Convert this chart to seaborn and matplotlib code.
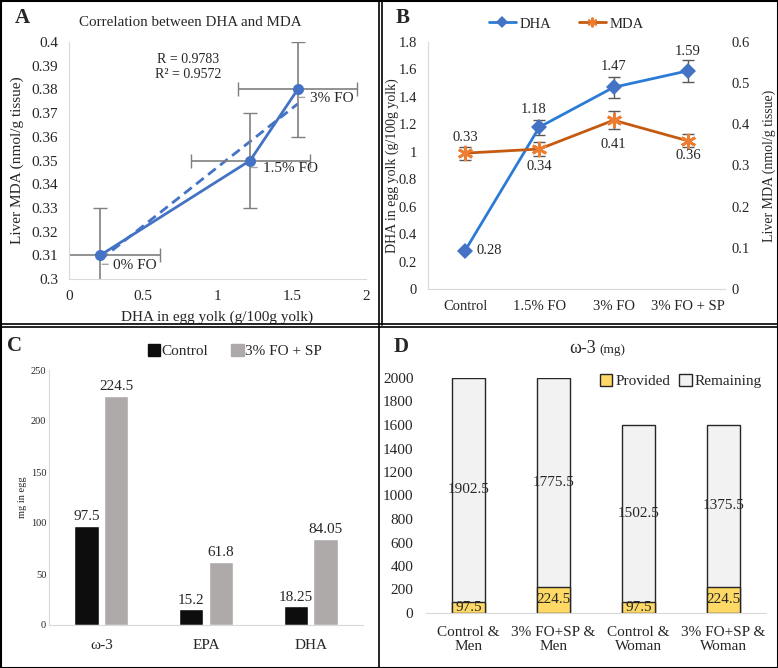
import matplotlib
matplotlib.use("Agg")
import matplotlib.pyplot as plt
import numpy as np
import pandas as pd
import seaborn as sns
from matplotlib.lines import Line2D
from matplotlib.patches import Patch
from matplotlib.transforms import offset_copy

# panel A: DHA in yolk vs liver MDA
a_labels = ["0% FO", "1.5% FO", "3% FO"]
a_dha = [0.21, 1.22, 1.54]
a_mda = [0.31, 0.35, 0.38]
a_xerr = [0.4, 0.4, 0.4]
a_yerr = [0.02, 0.02, 0.02]

# panel B: treatments
b_groups = ["Control", "1.5% FO", "3% FO", "3% FO + SP"]
b_dha = [0.28, 1.18, 1.47, 1.59]
b_dha_err = [0.0, 0.055, 0.075, 0.08]
b_mda = [0.33, 0.34, 0.41, 0.36]
b_mda_err = [0.016, 0.016, 0.022, 0.016]

# panel C: mg in egg
c_nutrients = ["ω-3", "EPA", "DHA"]
c_control = [97.5, 15.2, 18.25]
c_fosp = [224.5, 61.8, 84.05]

# panel D: omega-3 provided vs remaining
d_groups = ["Control &\nMen", "3% FO+SP &\nMen", "Control &\nWoman", "3% FO+SP &\nWoman"]
d_provided = [97.5, 224.5, 97.5, 224.5]
d_remaining = [1902.5, 1775.5, 1502.5, 1375.5]

sns.set_style("white")
plt.rcParams["font.family"] = ["Liberation Serif", "DejaVu Serif"]

W, H = 778, 668
fig = plt.figure(figsize=(W / 100, H / 100), dpi=100)


def box(l, t, r, b):
    return fig.add_axes([l / W, 1 - b / H, (r - l) / W, (b - t) / H])


def px(x, y):
    return x / W, 1 - y / H


def clean(ax, keep=("left", "bottom")):
    for s in ["left", "right", "top", "bottom"]:
        ax.spines[s].set_visible(s in keep)
        ax.spines[s].set_color("#d9d9d9")
    ax.tick_params(length=0)


grey_bar = "#7f7f7f"
blue = "#4472c4"

# ---------- A ----------
axA = box(69, 42, 366, 279)
dfA = pd.DataFrame({"dha": a_dha, "mda": a_mda})
sns.regplot(data=dfA, x="dha", y="mda", ci=None, scatter=False, ax=axA,
            line_kws=dict(color=blue, ls=(0, (3.5, 2)), lw=2))
axA.errorbar(a_dha, a_mda, xerr=a_xerr, yerr=a_yerr, fmt="none",
             ecolor=grey_bar, elinewidth=1.2, capsize=5)
sns.lineplot(data=dfA, x="dha", y="mda", ax=axA, color=blue, lw=2,
             marker="o", markersize=8, markeredgewidth=0, sort=False)
# label offsets in pixels: text start, vertical shift, leader start/end
a_lab_pos = [(13, -10, 2, 8), (13, -8, 1, 7), (12, -9, 1, 7)]
for x, y, lab, (tx, ty, l0, l1) in zip(a_dha, a_mda, a_labels, a_lab_pos):
    axA.annotate(lab, (x, y), xytext=(tx, ty), textcoords="offset pixels",
                 ha="left", va="center", fontsize=11)
    tr = offset_copy(axA.transData, fig=fig, x=l0, y=ty + 1, units="dots")
    axA.annotate("", (x, y), xycoords=tr, xytext=(l1 - l0, 0), textcoords="offset pixels",
                 arrowprops=dict(arrowstyle="-", color="#a6a6a6", lw=1,
                                 shrinkA=0, shrinkB=0))
axA.set_xlim(0, 2)
axA.set_ylim(0.3, 0.4)
yt = np.round(np.arange(0.3, 0.4001, 0.01), 2)
axA.set_yticks(yt)
axA.set_yticklabels([f"{v:g}" for v in yt])
axA.set_xticks([0, 0.5, 1, 1.5, 2])
axA.set_xticklabels(["0", "0.5", "1", "1.5", "2"])
axA.tick_params(axis="y", labelsize=11, pad=8)
axA.tick_params(axis="x", labelsize=11, pad=8)
axA.set_xlabel("DHA in egg yolk (g/100g yolk)", fontsize=11, labelpad=5)
axA.set_ylabel("Liver MDA (nmol/g tissue)", fontsize=11, labelpad=5)
clean(axA)
axA.text(0.8, 0.3925, "R = 0.9783", ha="center", va="center", fontsize=10)
axA.text(0.8, 0.3862, "R² = 0.9572", ha="center", va="center", fontsize=10)
fig.text(*px(190, 22), "Correlation between DHA and MDA", ha="center", va="center", fontsize=10.8)

# ---------- B ----------
axB = box(428, 42, 725, 289)
pos = np.arange(len(b_groups))
dfB = pd.DataFrame({"pos": pos, "dha": b_dha, "mda": b_mda})
dha_line = "#2b7bd6"
mda_line = "#c55a11"
mda_mark = "#ed7d31"
axB.errorbar(pos, b_dha, yerr=b_dha_err, fmt="none", ecolor="#595959", elinewidth=1, capsize=4)
sns.lineplot(data=dfB, x="pos", y="dha", ax=axB, color=dha_line, lw=2,
             marker="D", markersize=8, markerfacecolor=blue, markeredgewidth=0)
bt = np.round(np.arange(0, 1.81, 0.2), 1)
axB.set_ylim(0, 1.8)
axB.set_yticks(bt)
axB.set_yticklabels([f"{v:g}" for v in bt])
axB.set_xlim(-0.5, 3.5)
axB.set_xticks(pos)
axB.set_xticklabels(b_groups)
axB.tick_params(axis="y", labelsize=10.5, pad=8)
axB.tick_params(axis="x", labelsize=10.5, pad=8)
axB.set_xlabel("")
axB.set_ylabel("DHA in egg yolk (g/100g yolk)", fontsize=10, labelpad=0)
clean(axB)
axB2 = axB.twinx()
axB2.errorbar(pos, b_mda, yerr=b_mda_err, fmt="none", ecolor="#595959", elinewidth=1, capsize=4)
sns.lineplot(data=dfB, x="pos", y="mda", ax=axB2, color=mda_line, lw=2,
             marker=(6, 2, 0), markersize=11, markeredgecolor=mda_mark, markeredgewidth=2)
rt = np.round(np.arange(0, 0.61, 0.1), 1)
axB2.set_ylim(0, 0.6)
axB2.set_yticks(rt)
axB2.set_yticklabels([f"{v:g}" for v in rt])
axB2.tick_params(labelsize=10.5, length=0, pad=5)
axB2.set_ylabel("Liver MDA (nmol/g tissue)", fontsize=10, labelpad=9)
for s in axB2.spines.values():
    s.set_visible(False)
# label offsets in pixels (centre of text relative to point)
dha_off = [(24, 0), (-6, 18), (0, 21), (0, 19)]
for i, (dx, dy) in enumerate(dha_off):
    axB.annotate(f"{b_dha[i]:g}", (pos[i], b_dha[i]), xytext=(dx, dy),
                 textcoords="offset pixels", ha="center", va="center", fontsize=10.5)
mda_off = [(0, 16), (0, -17), (0, -24), (0, -15)]
for i, (dx, dy) in enumerate(mda_off):
    axB2.annotate(f"{b_mda[i]:g}", (pos[i], b_mda[i]), xytext=(dx, dy),
                  textcoords="offset pixels", ha="center", va="center", fontsize=10.5)
handlesB = [Line2D([], [], color=dha_line, lw=2, marker="D", markersize=6,
                   markerfacecolor=blue, markeredgewidth=0),
            Line2D([], [], color=mda_line, lw=2, marker=(6, 2, 0), markersize=7,
                   markeredgecolor=mda_mark, markeredgewidth=1.5)]
fig.legend(handlesB, ["DHA", "MDA"], loc="center", bbox_to_anchor=px(566, 24),
           ncol=2, frameon=False, fontsize=10.5, handlelength=1.9, columnspacing=1.9,
           handletextpad=0.2)

# ---------- C ----------
axC = box(49, 370, 363, 625)
dfC = pd.DataFrame({"nutrient": c_nutrients * 2,
                    "group": ["Control"] * 3 + ["3% FO + SP"] * 3,
                    "mg": c_control + c_fosp})
c_cols = ["#0d0d0d", "#aeaaaa"]
sns.barplot(data=dfC, x="nutrient", y="mg", hue="group", palette=c_cols,
            width=0.57, gap=0.18, ax=axC, errorbar=None, legend=False, saturation=1)
for cont in axC.containers:
    axC.bar_label(cont, fmt="%g", padding=2, fontsize=11)
axC.set_ylim(0, 250)
axC.set_yticks(range(0, 251, 50))
axC.tick_params(axis="y", labelsize=7.5, pad=2)
axC.tick_params(axis="x", labelsize=11, pad=10)
axC.set_xlabel("")
axC.set_ylabel("mg in egg", fontsize=7.5, labelpad=3)
clean(axC)
fig.legend([Patch(color=c) for c in c_cols], ["Control", "3% FO + SP"], loc="center",
           bbox_to_anchor=px(235, 351), ncol=2, frameon=False, fontsize=11,
           handlelength=0.8, handleheight=0.8, handletextpad=0.1, columnspacing=1.5)

# ---------- D ----------
axD = box(426, 378, 766, 613)
dfD = pd.DataFrame({"group": d_groups, "provided": d_provided, "remaining": d_remaining})
dfD["total"] = dfD["provided"] + dfD["remaining"]
yellow = "#ffd966"
light = "#f2f2f2"
sns.barplot(data=dfD, x="group", y="total", color=light, edgecolor="#262626",
            linewidth=1, width=0.39, ax=axD, errorbar=None, saturation=1)
sns.barplot(data=dfD, x="group", y="provided", color=yellow, edgecolor="#262626",
            linewidth=1, width=0.39, ax=axD, errorbar=None, saturation=1)
for i, (p, r) in enumerate(zip(d_provided, d_remaining)):
    axD.text(i, p + r / 2, f"{r:g}", ha="center", va="center", fontsize=11)
    axD.text(i, p / 2, f"{p:g}", ha="center", va="center", fontsize=11)
axD.set_ylim(0, 2000)
axD.set_yticks(range(0, 2001, 200))
axD.tick_params(axis="y", labelsize=11, pad=9)
axD.tick_params(axis="x", labelsize=11, pad=9)
axD.set_xlabel("")
axD.set_ylabel("")
clean(axD, keep=("bottom",))
fig.legend([Patch(facecolor=yellow, edgecolor="#262626"), Patch(facecolor=light, edgecolor="#262626")],
           ["Provided", "Remaining"], loc="center", bbox_to_anchor=px(681, 381), ncol=2,
           frameon=False, fontsize=11, handlelength=0.8, handleheight=0.8,
           handletextpad=0.2, columnspacing=0.6)
fig.text(*px(596, 353), "ω-3", ha="right", va="baseline", fontsize=13)
fig.text(*px(599, 353), "(mg)", ha="left", va="baseline", fontsize=9.5)

# ---------- panel letters and frames ----------
for lab, (x, y) in {"A": (22, 18), "B": (403, 18), "C": (15, 346), "D": (401, 347)}.items():
    fig.text(*px(x, y), lab, ha="center", va="center", fontsize=15, fontweight="bold")


def fline(x0, y0, x1, y1, lw=1.2):
    fig.add_artist(Line2D([x0 / W, x1 / W], [1 - y0 / H, 1 - y1 / H],
                          transform=fig.transFigure, color="black", lw=lw))


fline(379, 0, 379, H)
fline(382, 0, 382, 325)
fline(0, 324, W, 324)
fline(0, 327, W, 327)
fline(0.5, 0, 0.5, H, 1.5)
fline(W - 0.5, 0, W - 0.5, H, 1.5)
fline(0, 0.5, W, 0.5, 1.5)
fline(0, H - 0.5, W, H - 0.5, 1.5)

fig.savefig("out.png", dpi=100)
